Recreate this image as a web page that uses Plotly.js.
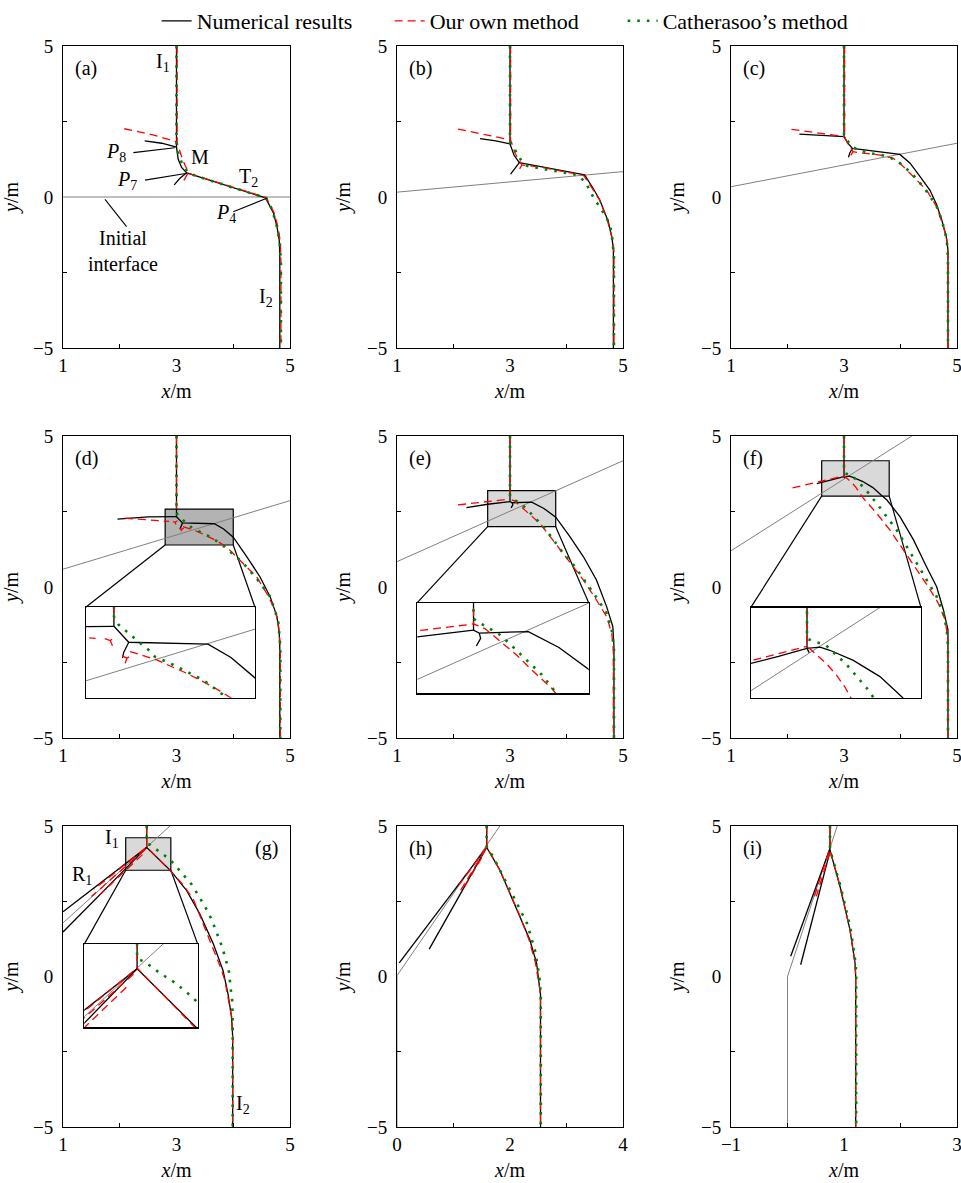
<!DOCTYPE html>
<html>
<head>
<meta charset="utf-8">
<script src="https://cdn.plot.ly/plotly-3.0.1.min.js"></script>
<style>
html, body { margin: 0; padding: 0; background: #ffffff; }
#chart { width: 961px; height: 1183px; }
</style>
</head>
<body>
<div id="chart"></div>
<script>
// Interface profiles for the nine time steps (a)–(i).
// A null separates the branches of one profile (reflected fronts, wave tails).

// ---------- (a) ----------
const num_a_x = [3.0, 3.0, 3.03, 3.09, 3.18, 3.91, 4.57, 4.71, 4.77, 4.81, 4.82, 4.82, null, 2.44, 2.74, 3.0, null, 3.18, 3.06, 2.96];
const num_a_y = [5, 1.65, 1.25, 0.98, 0.80, 0.36, -0.03, -0.54, -0.98, -1.42, -1.87, -5, null, 1.86, 1.78, 1.65, null, 0.80, 0.62, 0.40];
const own_a_x = [3.01, 3.01, 3.07, 3.15, 3.22, 3.6, 4.0, 4.58, 4.72, 4.79, 4.83, 4.84, 4.84, null, 2.08, 2.6, 3.01, null, 3.2, 3.13];
const own_a_y = [5, 1.82, 1.45, 1.05, 0.78, 0.56, 0.32, -0.02, -0.52, -1.0, -1.5, -2.2, -5, null, 2.26, 2.05, 1.82, null, 0.78, 0.55];
const cath_a_x = [3.0, 3.0, 3.03, 3.09, 3.15, 3.22, 3.4, 3.8, 4.2, 4.58, 4.68, 4.76, 4.82, 4.84, 4.84];
const cath_a_y = [5, 1.7, 1.45, 1.15, 0.95, 0.78, 0.66, 0.42, 0.18, -0.03, -0.4, -0.9, -1.5, -2.2, -5];
const face_a_x = [1, 5];
const face_a_y = [0, 0];

// ---------- (b) ----------
const num_b_x = [3.0, 3.0, 3.07, 3.165, 3.71, 4.32, 4.47, 4.59, 4.74, 4.80, 4.83, 4.83, null, 2.47, 2.75, 3.0, null, 3.165, 3.09, 3.01];
const num_b_y = [5, 1.76, 1.39, 1.14, 0.95, 0.73, 0.29, -0.10, -0.82, -1.31, -1.70, -5, null, 1.93, 1.86, 1.76, null, 1.14, 0.95, 0.76];
const own_b_x = [3.01, 3.01, 3.09, 3.21, 3.5, 3.9, 4.3, 4.45, 4.58, 4.72, 4.80, 4.84, 4.84, null, 2.08, 2.6, 3.01, null, 3.21, 3.17];
const own_b_y = [5, 1.89, 1.45, 1.06, 1.0, 0.86, 0.72, 0.3, -0.08, -0.75, -1.3, -1.8, -5, null, 2.25, 2.06, 1.89, null, 1.06, 0.93];
const cath_b_x = [3.0, 3.0, 3.02, 3.09, 3.15, 3.21, 3.30, 3.47, 3.83, 4.18, 4.33, 4.42, 4.50, 4.59, 4.68, 4.76, 4.80, 4.84, 4.84];
const cath_b_y = [5, 1.8, 1.78, 1.56, 1.33, 1.17, 1.03, 0.97, 0.84, 0.73, 0.51, 0.18, -0.10, -0.32, -0.60, -0.87, -1.20, -1.98, -5];
const face_b_x = [1, 5];
const face_b_y = [0.16, 0.84];

// ---------- (c) ----------
const num_c_x = [3.0, 3.0, 3.06, 3.15, 3.99, 4.17, 4.35, 4.52, 4.64, 4.73, 4.81, 4.84, 4.84, null, 2.21, 2.575, 3.0, null, 3.15, 3.10, 3.08];
const num_c_y = [5, 2.0, 1.8, 1.61, 1.41, 1.12, 0.67, 0.23, -0.26, -0.76, -1.31, -1.75, -5, null, 2.08, 2.05, 2.0, null, 1.61, 1.45, 1.31];
const own_c_x = [3.01, 3.01, 3.08, 3.16, 3.34, 3.64, 3.87, 3.99, 4.23, 4.46, 4.64, 4.76, 4.82, 4.84, 4.84, null, 2.07, 2.5, 3.01, null, 3.16, 3.12];
const own_c_y = [5, 2.0, 1.72, 1.5, 1.45, 1.39, 1.28, 1.12, 0.67, 0.23, -0.32, -0.98, -1.42, -1.9, -5, null, 2.24, 2.13, 2.0, null, 1.5, 1.38];
const cath_c_x = [3.0, 3.0, 3.05, 3.14, 3.25, 3.46, 3.67, 3.84, 3.99, 4.20, 4.35, 4.49, 4.64, 4.73, 4.82, 4.84, 4.84];
const cath_c_y = [5, 2.0, 1.89, 1.67, 1.56, 1.45, 1.39, 1.28, 1.12, 0.78, 0.45, 0.12, -0.32, -0.76, -1.42, -2.0, -5];
const face_c_x = [1, 5];
const face_c_y = [0.34, 1.78];

// ---------- (d) ----------
const num_d_x = [3.0, 3.0, 3.105, 3.667, 3.83, 4.0, 4.24, 4.47, 4.65, 4.77, 4.81, 4.82, 4.82, null, 1.96, 2.5, 3.0, null, 3.105, 3.07, 3.06];
const num_d_y = [5, 2.33, 2.12, 2.095, 1.92, 1.65, 1.0, 0.34, -0.32, -0.98, -1.53, -2.0, -5, null, 2.25, 2.32, 2.33, null, 2.12, 1.99, 1.91];
const own_d_x = [3.0, 3.0, null, 2.09, 2.59, 2.87, null, 2.935, 2.974, 3.017, null, 2.974, 2.99, null, 3.057, 3.092, 3.127, null, 3.092, 3.08, null, 3.115, 3.303, 3.515, 3.70, 3.88, 4.18, 4.41, 4.59, 4.74, 4.80, 4.83, 4.83];
const own_d_y = [5, 2.42, null, 2.28, 2.22, 2.17, null, 2.169, 2.143, 2.196, null, 2.143, 2.073, null, 1.941, 1.910, 1.95, null, 1.910, 1.844, null, 1.998, 1.887, 1.712, 1.536, 1.33, 0.78, 0.34, -0.21, -0.76, -1.31, -1.97, -5];
const cath_d_x = [3.0, 3.0, 3.033, 3.10, 3.16, 3.245, 3.29, 3.397, 3.526, 3.632, 3.76, 3.85, 4.15, 4.41, 4.65, 4.79, 4.81, 4.83, 4.83];
const cath_d_y = [5, 2.46, 2.35, 2.24, 2.15, 2.02, 1.93, 1.844, 1.72, 1.624, 1.447, 1.33, 0.84, 0.29, -0.32, -1.09, -1.53, -2.0, -5];
const face_d_x = [1, 5];
const face_d_y = [0.59, 2.86];

// ---------- (e) ----------
const num_e_x = [3.0, 3.0, 3.04, 3.385, 3.6, 3.81, 4.06, 4.30, 4.53, 4.71, 4.82, 4.84, 4.84, null, 2.23, 2.605, 3.0, null, 3.04, 3.05, 3.02];
const num_e_y = [5, 2.83, 2.79, 2.81, 2.6, 2.31, 1.67, 1.0, 0.23, -0.65, -1.31, -1.97, -5, null, 2.63, 2.74, 2.83, null, 2.79, 2.72, 2.62];
const own_e_x = [3.0, 3.0, 3.08, 3.164, 3.305, 3.399, 3.551, 3.71, 4.0, 4.30, 4.53, 4.71, 4.80, 4.83, 4.83, null, 2.08, 2.65, 3.0];
const own_e_y = [5, 2.91, 2.85, 2.716, 2.497, 2.322, 2.06, 1.67, 1.0, 0.23, -0.43, -0.98, -1.53, -2.1, -5, null, 2.72, 2.83, 2.91];
const cath_e_x = [3.0, 3.0, 3.047, 3.117, 3.176, 3.22, 3.30, 3.363, 3.42, 3.48, 3.55, 3.59, 3.77, 3.94, 4.15, 4.36, 4.56, 4.71, 4.80, 4.84, 4.84];
const cath_e_y = [5, 2.98, 2.92, 2.845, 2.78, 2.71, 2.57, 2.45, 2.35, 2.24, 2.09, 2.0, 1.56, 1.12, 0.67, 0.12, -0.43, -0.87, -1.42, -2.0, -5];
const face_e_x = [1, 5];
const face_e_y = [0.84, 4.18];

// ---------- (f) ----------
const num_f_x = [3.0, 3.0, 3.092, 3.16, 3.325, 3.512, 3.676, 3.76, 3.99, 4.23, 4.46, 4.64, 4.76, 4.84, 4.84, null, 2.52, 2.8, 3.0, null, 3.0, 3.015];
const num_f_y = [5, 3.655, 3.67, 3.63, 3.50, 3.29, 3.01, 2.88, 2.33, 1.56, 0.67, 0.01, -0.76, -1.42, -5, null, 3.42, 3.55, 3.655, null, 3.655, 3.60];
const own_f_x = [3.0, 3.0, 3.056, 3.138, 3.208, 3.266, 3.313, 3.34, 3.58, 3.81, 4.05, 4.29, 4.49, 4.67, 4.79, 4.84, 4.84, null, 2.09, 2.62, 3.0];
const own_f_y = [5, 3.68, 3.59, 3.455, 3.305, 3.155, 3.0, 2.94, 2.44, 1.89, 1.23, 0.56, 0.01, -0.54, -1.09, -1.75, -5, null, 3.28, 3.50, 3.68];
const cath_f_x = [3.0, 3.0, 3.073, 3.13, 3.20, 3.28, 3.35, 3.42, 3.47, 3.58, 3.76, 3.93, 4.11, 4.29, 4.46, 4.64, 4.76, 4.82, 4.84, 4.84];
const cath_f_y = [5, 3.78, 3.73, 3.70, 3.58, 3.44, 3.29, 3.14, 3.01, 2.77, 2.33, 1.89, 1.34, 0.78, 0.23, -0.32, -0.87, -1.42, -2.0, -5];
const face_f_x = [1, 5];
const face_f_y = [1.2, 5.95];

// ---------- (g) ----------
const num_g_x = [2.475, 2.475, 2.90, 3.18, 3.41, 3.65, 3.82, 3.91, 3.97, 3.99, 3.99, null, 1.0, 2.475, null, 2.475, 1.0];
const num_g_y = [5, 4.29, 3.51, 2.85, 2.08, 1.08, 0.2, -0.6, -1.35, -2.0, -5, null, 2.15, 4.29, null, 4.29, 1.48];
const own_g_x = [2.475, 2.475, 2.885, 3.12, 3.30, 3.47, 3.65, 3.77, 3.85, 3.91, 3.97, 3.99, 3.99, null, 2.45, 1.55, null, 2.45, 1.50, null, 2.40, 1.65];
const own_g_y = [5, 4.30, 3.52, 3.04, 2.55, 1.77, 0.89, 0.33, -0.11, -0.66, -1.33, -1.99, -5, null, 4.26, 2.90, null, 4.22, 2.66, null, 4.05, 2.72];
const cath_g_x = [2.475, 2.475, 2.53, 2.63, 2.74, 2.87, 2.97, 3.12, 3.27, 3.38, 3.50, 3.62, 3.71, 3.80, 3.87, 3.93, 3.95, 3.98, 3.99, 3.99];
const cath_g_y = [5, 4.42, 4.38, 4.24, 4.11, 3.91, 3.71, 3.38, 3.05, 2.71, 2.33, 1.89, 1.44, 1.0, 0.56, 0.11, -0.33, -0.77, -1.5, -5];
const face_g_x = [1, 2.885];
const face_g_y = [1.78, 5];

// ---------- (h) ----------
const num_h_x = [1.587, 1.587, 1.82, 2.0, 2.18, 2.35, 2.47, 2.53, 2.54, 2.54, null, 1.587, 0.04, null, 1.587, 0.57];
const num_h_y = [5, 4.29, 3.54, 2.77, 1.99, 1.22, 0.45, -0.33, -0.6, -5, null, 4.29, 0.45, null, 4.29, 0.91];
const own_h_x = [1.59, 1.59, 1.82, 2.0, 2.18, 2.34, 2.45, 2.52, 2.54, 2.54, null, 1.58, 1.10, null, 1.56, 1.08, null, 1.50, 1.20];
const own_h_y = [5, 4.29, 3.54, 2.77, 1.99, 1.2, 0.45, -0.33, -0.6, -5, null, 4.27, 3.05, null, 4.2, 2.72, null, 3.95, 3.0];
const cath_h_x = [1.587, 1.587, 1.70, 1.85, 2.06, 2.30, 2.44, 2.52, 2.545, 2.545];
const cath_h_y = [5, 4.32, 3.98, 3.45, 2.66, 1.77, 0.89, 0.0, -0.6, -5];
const face_h_x = [0, 0, 1.82];
const face_h_y = [-5, 0.03, 5];

// ---------- (i) ----------
const num_i_x = [0.752, 0.752, 0.93, 1.106, 1.195, 1.207, 1.207, null, 0.745, 0.057, null, 0.755, 0.233];
const num_i_y = [5, 4.20, 2.99, 1.55, 0.45, 0.0, -5, null, 4.22, 0.67, null, 4.18, 0.39];
const own_i_x = [0.752, 0.752, 0.93, 1.106, 1.195, 1.207, 1.207, null, 0.73, 0.47, null, 0.75, 0.51];
const own_i_y = [5, 4.20, 2.99, 1.55, 0.45, 0.0, -5, null, 4.15, 2.62, null, 4.12, 2.66];
const cath_i_x = [0.752, 0.752, 0.94, 1.12, 1.205, 1.215, 1.215];
const cath_i_y = [5, 4.22, 2.99, 1.55, 0.45, 0.0, -5];
const face_i_x = [0, 0, 0.88];
const face_i_y = [-5, 0, 5];

// Magnified windows [x0, x1, y0, y1] and where their enlargements sit in the panel.
const zoom_d = [2.80, 4.00, 1.39, 2.58];
const inset_d = [1.40, 4.383, -3.666, -0.672];
const zoom_e = [2.605, 3.809, 1.997, 3.19];
const inset_e = [1.359, 4.393, -3.52, -0.52];
const zoom_f = [2.605, 3.80, 3.01, 4.18];
const inset_f = [1.349, 4.363, -3.685, -0.685];
const zoom_g = [2.105, 2.90, 3.53, 4.61];
const inset_g = [1.375, 3.374, -1.69, 1.076];

// Tick labels
const xTicks15 = [1, 3, 5];
const xMinor15 = [2, 4];
const xTicks04 = [0, 2, 4];
const xMinor04 = [1, 3];
const xTicksM13 = [-1, 1, 3];
const xMinorM13 = [0, 2];
const yTicks = [-5, 0, 5];
const yMinor = [-2.5, 2.5];

const panelNames = ['(a)', '(b)', '(c)', '(d)', '(e)', '(f)', '(g)', '(h)', '(i)'];
const legendNames = ['Numerical results', 'Our own method', 'Catherasoo\u2019s method'];

// ---------- figure assembly ----------
const W = 961, H = 1183;
const FONT = 'Liberation Serif, Times New Roman, serif';
const colPx = [[63, 290], [397, 623], [731, 957]];
const rowPx = [[46, 348], [436, 738], [826, 1127]];
const xDom = (c) => [colPx[c][0] / W, colPx[c][1] / W];
const yDom = (r) => [1 - rowPx[r][1] / H, 1 - rowPx[r][0] / H];

const panels = {
  a: {num: [num_a_x, num_a_y], own: [own_a_x, own_a_y], cath: [cath_a_x, cath_a_y], face: [face_a_x, face_a_y]},
  b: {num: [num_b_x, num_b_y], own: [own_b_x, own_b_y], cath: [cath_b_x, cath_b_y], face: [face_b_x, face_b_y]},
  c: {num: [num_c_x, num_c_y], own: [own_c_x, own_c_y], cath: [cath_c_x, cath_c_y], face: [face_c_x, face_c_y]},
  d: {num: [num_d_x, num_d_y], own: [own_d_x, own_d_y], cath: [cath_d_x, cath_d_y], face: [face_d_x, face_d_y]},
  e: {num: [num_e_x, num_e_y], own: [own_e_x, own_e_y], cath: [cath_e_x, cath_e_y], face: [face_e_x, face_e_y]},
  f: {num: [num_f_x, num_f_y], own: [own_f_x, own_f_y], cath: [cath_f_x, cath_f_y], face: [face_f_x, face_f_y]},
  g: {num: [num_g_x, num_g_y], own: [own_g_x, own_g_y], cath: [cath_g_x, cath_g_y], face: [face_g_x, face_g_y]},
  h: {num: [num_h_x, num_h_y], own: [own_h_x, own_h_y], cath: [cath_h_x, cath_h_y], face: [face_h_x, face_h_y]},
  i: {num: [num_i_x, num_i_y], own: [own_i_x, own_i_y], cath: [cath_i_x, cath_i_y], face: [face_i_x, face_i_y]}
};
const ids = ['a', 'b', 'c', 'd', 'e', 'f', 'g', 'h', 'i'];
const xSetup = {
  a: [xTicks15, xMinor15], b: [xTicks15, xMinor15], c: [xTicks15, xMinor15],
  d: [xTicks15, xMinor15], e: [xTicks15, xMinor15], f: [xTicks15, xMinor15],
  g: [xTicks15, xMinor15], h: [xTicks04, xMinor04], i: [xTicksM13, xMinorM13]
};

const lineStyle = {
  face: {color: '#808080', width: 1},
  num: {color: '#000000', width: 1.3},
  own: {color: '#ff0000', width: 1.3, dash: '8px,5px'},
  cath: {color: '#008000', width: 2.6, dash: '2.6px,7px'}
};
const legendIdx = {num: 0, own: 1, cath: 2};

const traces = [];
function addProfiles(id, xa, ya, withLegend) {
  ['face', 'num', 'own', 'cath'].forEach((k) => {
    const [xs, ys] = panels[id][k];
    const t = {
      type: 'scatter', mode: 'lines', x: xs, y: ys, xaxis: xa, yaxis: ya,
      line: lineStyle[k], connectgaps: false, hoverinfo: 'skip',
      showlegend: false
    };
    if (k !== 'face') {
      t.legendgroup = k;
      t.name = legendNames[legendIdx[k]];
      if (withLegend) t.showlegend = true;
    }
    traces.push(t);
  });
}

const layout = {
  width: W, height: H,
  margin: {l: 0, r: 0, t: 0, b: 0},
  paper_bgcolor: '#ffffff', plot_bgcolor: 'rgba(0,0,0,0)',
  font: {family: FONT, size: 18, color: '#000000'},
  showlegend: true,
  legend: {
    orientation: 'h', x: 0.163, xanchor: 'left', y: 1.0, yanchor: 'top',
    font: {family: FONT, size: 22, color: '#000000'},
    bgcolor: 'rgba(0,0,0,0)', itemwidth: 30, tracegroupgap: 0,
    entrywidth: 188, entrywidthmode: 'pixels'
  },
  shapes: [], annotations: [], hovermode: false
};

function axisBase(dom, range, tickvals, minorvals, anchor, title, isY) {
  return {
    domain: dom, range: range, anchor: anchor,
    showline: true, mirror: true, linecolor: '#000000', linewidth: 1,
    showgrid: false, zeroline: false,
    tickmode: 'array', tickvals: tickvals, ticks: '',
    ticklabelstandoff: isY ? 5 : 0, ticklabeloverflow: 'allow',
    tickfont: {family: FONT, size: 19, color: '#000000'},
    minor: {tickmode: 'array', tickvals: minorvals, ticks: 'inside', ticklen: 4, tickwidth: 1, tickcolor: '#000000', showgrid: false},
    title: {text: title, font: {family: FONT, size: 20, color: '#000000'}, standoff: isY ? 10 : 9},
    fixedrange: true
  };
}

ids.forEach((id, n) => {
  const r = Math.floor(n / 3), c = n % 3;
  const k = n + 1;
  const xa = k === 1 ? 'x' : 'x' + k;
  const ya = k === 1 ? 'y' : 'y' + k;
  const [tv, mv] = xSetup[id];
  const xr = [tv[0], tv[tv.length - 1]];
  layout[k === 1 ? 'xaxis' : 'xaxis' + k] = axisBase(xDom(c), xr, tv, mv, ya, '<i>x</i>/m', false);
  layout[k === 1 ? 'yaxis' : 'yaxis' + k] = axisBase(yDom(r), [-5, 5], yTicks, yMinor, xa, '<i>y</i>/m', true);
  addProfiles(id, xa, ya, n === 0);
  const right = id === 'g';
  layout.annotations.push({
    text: panelNames[n], xref: xa + ' domain', yref: ya + ' domain',
    x: right ? 0.955 : 0.045, y: 0.97, xanchor: right ? 'right' : 'left', yanchor: 'top',
    showarrow: false, font: {family: FONT, size: 20, color: '#000000'}
  });
});

// Enlarged views for (d)–(g)
const insets = [
  {id: 'd', main: 4, k: 10, zoom: zoom_d, place: inset_d, fill: '#b3b3b3'},
  {id: 'e', main: 5, k: 11, zoom: zoom_e, place: inset_e, fill: '#d9d9d9'},
  {id: 'f', main: 6, k: 12, zoom: zoom_f, place: inset_f, fill: '#d9d9d9'},
  {id: 'g', main: 7, k: 13, zoom: zoom_g, place: inset_g, fill: '#d9d9d9'}
];
insets.forEach((s) => {
  const mx = layout['xaxis' + s.main], my = layout['yaxis' + s.main];
  const map = (dom, rng, v) => dom[0] + (v - rng[0]) / (rng[1] - rng[0]) * (dom[1] - dom[0]);
  const xa = 'x' + s.k, ya = 'y' + s.k;
  const mxa = 'x' + s.main, mya = 'y' + s.main;
  layout['xaxis' + s.k] = {
    domain: [map(mx.domain, mx.range, s.place[0]), map(mx.domain, mx.range, s.place[1])],
    range: [s.zoom[0], s.zoom[1]], anchor: ya,
    showline: true, mirror: true, linecolor: '#000000', linewidth: 1.2,
    showgrid: false, zeroline: false, showticklabels: false, ticks: '', fixedrange: true
  };
  layout['yaxis' + s.k] = {
    domain: [map(my.domain, my.range, s.place[2]), map(my.domain, my.range, s.place[3])],
    range: [s.zoom[2], s.zoom[3]], anchor: xa,
    showline: true, mirror: true, linecolor: '#000000', linewidth: 1.2,
    showgrid: false, zeroline: false, showticklabels: false, ticks: '', fixedrange: true
  };
  addProfiles(s.id, xa, ya, false);
  // shaded window in the panel
  layout.shapes.push({
    type: 'rect', xref: mxa, yref: mya, layer: 'below',
    x0: s.zoom[0], x1: s.zoom[1], y0: s.zoom[2], y1: s.zoom[3],
    fillcolor: s.fill, line: {color: '#000000', width: 1.2}
  });
  // guide lines from the window to its enlargement
  layout.shapes.push({
    type: 'line', xref: mxa, yref: mya, layer: 'below',
    x0: s.zoom[0], y0: s.zoom[2], x1: s.place[0], y1: s.place[3],
    line: {color: '#000000', width: 1.2}
  });
  layout.shapes.push({
    type: 'line', xref: mxa, yref: mya, layer: 'below',
    x0: s.zoom[1], y0: s.zoom[2], x1: s.place[1], y1: s.place[3],
    line: {color: '#000000', width: 1.2}
  });
});

// Wave labels in (a) and (g)
const labelFont = {family: FONT, size: 20, color: '#000000'};
function label(text, xref, yref, x, y) {
  layout.annotations.push({text: text, xref: xref, yref: yref, x: x, y: y, showarrow: false, font: labelFont});
}
label('I<sub>1</sub>', 'x', 'y', 2.76, 4.44);
label('<i>P</i><sub>8</sub>', 'x', 'y', 1.93, 1.49);
label('M', 'x', 'y', 3.42, 1.33);
label('<i>P</i><sub>7</sub>', 'x', 'y', 2.12, 0.53);
label('T<sub>2</sub>', 'x', 'y', 4.27, 0.64);
label('<i>P</i><sub>4</sub>', 'x', 'y', 3.87, -0.56);
label('Initial<br>interface', 'x', 'y', 2.06, -1.80);
label('I<sub>2</sub>', 'x', 'y', 4.58, -3.34);
label('I<sub>1</sub>', 'x7', 'y7', 1.86, 4.60);
label('R<sub>1</sub>', 'x7', 'y7', 1.33, 3.34);
label('I<sub>2</sub>', 'x7', 'y7', 4.18, -4.25);

// Leader lines from the labels in (a)
const leaders_a = [
  [2.24, 1.47, 2.97, 1.63],
  [2.445, 0.56, 3.16, 0.78],
  [4.0, -0.49, 4.59, -0.04],
  [2.12, -0.98, 1.74, -0.08]
];
leaders_a.forEach((L) => {
  layout.shapes.push({
    type: 'line', xref: 'x', yref: 'y', x0: L[0], y0: L[1], x1: L[2], y1: L[3],
    line: {color: '#000000', width: 1.1}
  });
});

Plotly.newPlot('chart', traces, layout, {staticPlot: true, displayModeBar: false});
</script>
</body>
</html>
